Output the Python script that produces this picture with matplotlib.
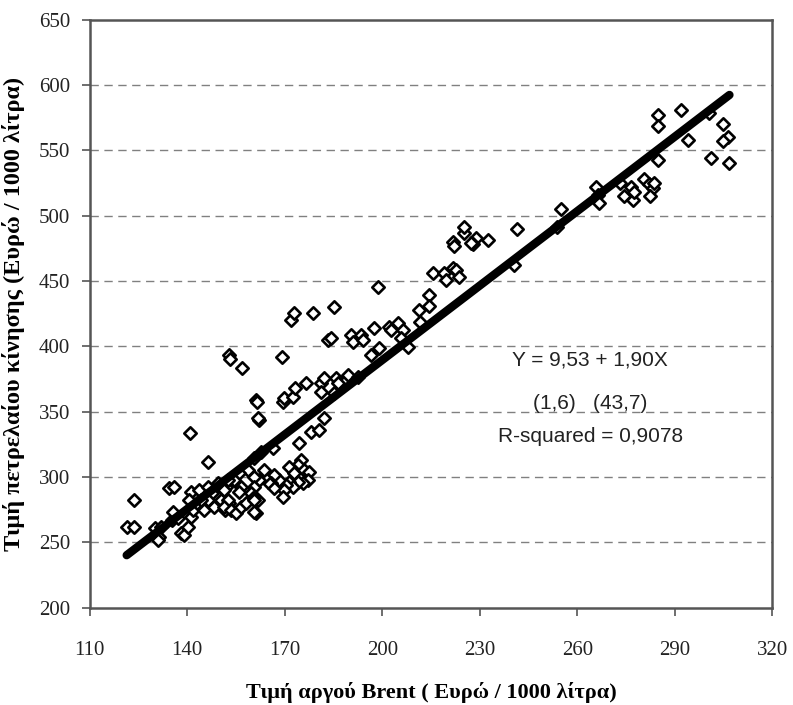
import matplotlib
matplotlib.use("Agg")
import matplotlib.pyplot as plt
import numpy as np

# Brent crude price (x) vs diesel price (y), Euro / 1000 litres
brent = [121.4, 123.8, 123.5, 130.0, 132.1, 131.2, 135.2, 135.8, 137.3, 138.2, 138.9,
         140.4, 141.3, 141.9, 142.9, 141.3, 143.5, 146.5, 147.5, 146.5, 148.4, 150.5,
         151.5, 153.0, 149.6, 152.0, 140.7, 144.4, 145.3, 131.0, 134.3, 136.0, 141.0,
         146.5, 153.0, 153.2, 157.0, 169.3, 161.3, 161.6, 169.6, 162.2, 161.9,
         169.9, 172.6, 173.2, 176.6, 181.2, 182.2, 181.2, 182.2, 172.0, 173.0, 178.8,
         183.4, 174.5, 178.2, 180.6, 166.5, 162.8, 160.7, 158.8, 156.0,
         175.1, 174.2, 172.6, 171.4, 172.9, 176.0, 177.5, 177.2, 175.7, 174.2, 171.4,
         172.6, 170.5, 169.9, 169.6, 168.3, 166.8, 165.9, 166.8, 164.9, 163.7, 163.7,
         162.2, 160.7, 160.7, 159.7, 161.9, 160.4, 156.7, 156.1, 154.5, 152.7, 151.4,
         152.7, 151.4, 153.6, 155.1, 156.7, 158.2, 160.7, 161.3, 160.7,
         185.8, 189.5, 192.6, 186.5, 185.2, 196.6, 199.0, 184.3,
         190.4, 193.5, 191.0, 194.0, 197.5, 202.0, 204.9, 202.7, 206.4, 205.8, 207.9,
         185.2, 198.7, 214.4, 214.4, 211.3, 211.6,
         215.6, 219.0, 219.6, 221.8, 222.7, 223.6,
         221.8, 222.0, 225.0, 225.1, 228.8, 228.0, 232.5, 227.3,
         241.6, 240.5, 253.7, 255.0,
         265.7, 266.3, 266.6, 273.0, 274.3, 276.4, 277.0, 277.3, 280.4, 282.0, 283.2,
         282.5, 283.5, 284.7, 284.7, 284.7, 291.8, 294.0, 300.4, 301.0, 304.7, 306.2,
         304.7, 306.8]
diesel = [262.0, 262.0, 282.7, 261.3, 262.0, 254.5, 267.4, 273.6, 269.0, 257.5, 256.0,
          262.0, 269.7, 275.0, 280.5, 288.9, 290.4, 292.7, 288.0, 282.7, 277.4, 282.7,
          275.0, 280.5, 295.8, 292.7, 282.7, 282.7, 275.0, 252.0, 292.0, 292.7, 334.0,
          311.8, 393.7, 390.0, 383.7, 392.2, 359.3, 357.7, 357.7, 344.0, 345.5,
          360.8, 361.5, 368.4, 372.3, 372.3, 376.0, 365.4, 345.5, 420.5, 425.8, 425.8,
          405.0, 326.4, 334.8, 336.3, 322.5, 319.5, 314.9, 305.7, 303.4,
          313.4, 309.5, 305.7, 308.0, 303.4, 305.7, 304.2, 298.0, 295.8, 296.5, 296.5,
          292.7, 294.2, 290.4, 285.0, 298.0, 301.9, 295.8, 292.0, 296.5, 300.4, 305.7,
          298.0, 300.4, 292.7, 288.0, 282.7, 284.3, 292.7, 288.9, 298.0, 298.0, 290.4,
          282.7, 277.4, 275.0, 272.8, 277.4, 280.5, 282.7, 272.8, 273.6,
          376.0, 378.4, 376.9, 372.3, 364.6, 393.7, 399.0, 406.7,
          409.0, 409.0, 403.6, 405.0, 414.0, 415.0, 418.0, 412.8, 412.8, 406.7, 399.8,
          430.4, 445.7, 439.6, 431.0, 428.0, 419.0,
          456.4, 456.4, 451.0, 460.0, 458.7, 453.4,
          480.0, 477.0, 487.0, 491.6, 483.0, 478.6, 481.7, 479.4,
          490.0, 462.5, 491.0, 505.0,
          522.0, 516.0, 510.0, 525.0, 515.0, 522.0, 512.0, 518.0, 528.0, 524.0, 521.5,
          515.0, 525.0, 577.0, 569.0, 543.0, 581.0, 558.0, 579.0, 544.0, 570.0, 560.0,
          557.0, 540.0]

intercept = 9.53
slope = 1.90
eq_lines = ["Y = 9,53 + 1,90X", "(1,6)   (43,7)", "R-squared = 0,9078"]

x_ticks = [110, 140, 170, 200, 230, 260, 290, 320]
y_ticks = [200, 250, 300, 350, 400, 450, 500, 550, 600, 650]
xlabel = "Τιμή αργού Brent ( Ευρώ / 1000 λίτρα)"
ylabel = "Τιμή πετρελαίου κίνησης (Ευρώ / 1000 λίτρα)"

fig = plt.figure(figsize=(7.93, 7.05), dpi=100)
ax = fig.add_axes([0.113, 0.138, 0.861, 0.834])

ax.set_xlim(110, 320)
ax.set_ylim(200, 650)
ax.set_xticks(x_ticks)
ax.set_yticks(y_ticks)

for yv in y_ticks[1:-1]:
    ax.axhline(yv, color="#808080", linestyle=(0, (6, 4)), linewidth=1.0, zorder=0)

ax.scatter(brent, diesel, marker="D", s=40, facecolors="white", edgecolors="black",
           linewidths=1.9, zorder=2)

xl = np.array([min(brent), max(brent)])
ax.plot(xl, intercept + slope * xl, color="black", linewidth=6, solid_capstyle="round", zorder=3)

for sp in ax.spines.values():
    sp.set_color("#555555")
    sp.set_linewidth(1.8)

ax.tick_params(direction="out", length=6, width=1.2, color="#555555")
ax.tick_params(axis="y", pad=8)
ax.tick_params(axis="x", pad=18)
for lab in ax.get_xticklabels() + ax.get_yticklabels():
    lab.set_fontfamily("Liberation Serif")
    lab.set_fontsize(15)
    lab.set_color("#222222")

ax.set_xlabel(xlabel, fontfamily="Liberation Serif", fontweight="bold", fontsize=16, labelpad=16)
ax.set_ylabel(ylabel, fontfamily="Liberation Serif", fontweight="bold", fontsize=17.5, labelpad=10)

tx = 264
for txt, ty in zip(eq_lines, [389.8, 356, 331]):
    ax.text(tx, ty, txt, ha="center", va="center", fontfamily="Liberation Sans",
            fontsize=15, color="#222222", zorder=4)

fig.savefig("out.png", dpi=100)
